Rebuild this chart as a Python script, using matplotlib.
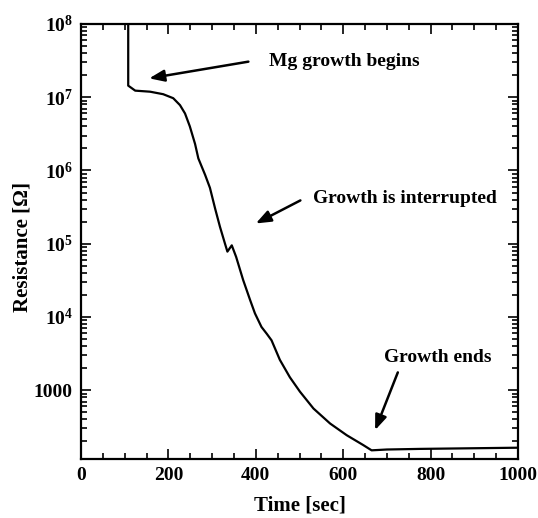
import matplotlib.pyplot as plt
import matplotlib.ticker as ticker
import numpy as np

# resistance during Mg growth
time = [108, 108, 124, 158, 188, 211, 226.5, 238, 249, 261, 268.5, 284, 295, 307, 318,
        329.5, 335, 345, 355, 371, 387, 398, 413, 425, 436, 455, 478, 501, 532, 570,
        608, 646, 665, 700, 776, 1000]
resistance = [1.5e8, 1.44e7, 1.23e7, 1.19e7, 1.10e7, 9.7e6, 7.8e6, 6.0e6, 4.0e6, 2.3e6,
              1.46e6, 8.7e5, 5.8e5, 3.0e5, 1.7e5, 1.0e5, 7.8e4, 9.5e4, 6.6e4, 3.2e4,
              1.7e4, 1.12e4, 7.3e3, 5.9e3, 4.8e3, 2.6e3, 1.5e3, 955, 562, 351,
              243, 178, 151, 155, 158, 164]

ytick_vals = [1e3, 1e4, 1e5, 1e6, 1e7, 1e8]
ytick_labels = ['1000', r'$\mathbf{10^4}$', r'$\mathbf{10^5}$', r'$\mathbf{10^6}$',
                r'$\mathbf{10^7}$', r'$\mathbf{10^8}$']

plt.rcParams['font.family'] = 'Liberation Serif'
plt.rcParams['font.weight'] = 'bold'
plt.rcParams['mathtext.fontset'] = 'custom'
plt.rcParams['mathtext.bf'] = 'Liberation Serif:bold'
plt.rcParams['mathtext.rm'] = 'Liberation Serif:bold'

fig = plt.figure(figsize=(5.38, 5.18), dpi=100)
ax = fig.add_axes([0.1506, 0.1139, 0.8122, 0.8398])
ax.plot(time, resistance, color='black', lw=1.6)
ax.set_yscale('log')
ax.set_xlim(0, 1000)
ax.set_ylim(115, 1e8)

ax.xaxis.set_major_locator(ticker.MultipleLocator(200))
ax.xaxis.set_minor_locator(ticker.MultipleLocator(50))
ax.set_yticks(ytick_vals)
ax.set_yticklabels(ytick_labels)
ax.yaxis.set_minor_locator(ticker.LogLocator(base=10, subs=np.arange(2, 10)))
ax.yaxis.set_minor_formatter(ticker.NullFormatter())
ax.tick_params(which='both', direction='in', top=True, right=True, width=1.2,
               labelsize=14, pad=6)
ax.tick_params(which='major', length=7)
ax.tick_params(which='minor', length=4)
for s in ax.spines.values():
    s.set_linewidth(1.6)

ax.set_xlabel('Time [sec]', fontsize=15, fontweight='bold', labelpad=8)
ax.set_ylabel('Resistance [Ω]', fontsize=15, fontweight='bold')
ax.yaxis.set_label_coords(-0.112, 0.487)

arrow = dict(arrowstyle='-|>,head_length=0.9,head_width=0.35', color='black', lw=1.8,
             shrinkA=0, shrinkB=0)
ax.annotate('', xy=(156, 1.81e7), xytext=(383, 3.06e7), arrowprops=arrow)
ax.text(430, 3.1e7, 'Mg growth begins', fontsize=14, fontweight='bold',
        ha='left', va='center')
ax.annotate('', xy=(400, 1.89e5), xytext=(502, 3.9e5), arrowprops=arrow)
ax.text(531, 4.1e5, 'Growth is interrupted', fontsize=14, fontweight='bold',
        ha='left', va='center')
ax.annotate('', xy=(673, 285), xytext=(725, 1750), arrowprops=arrow)
ax.text(693, 2800, 'Growth ends', fontsize=14, fontweight='bold',
        ha='left', va='center')

fig.savefig('out.png', dpi=100)
